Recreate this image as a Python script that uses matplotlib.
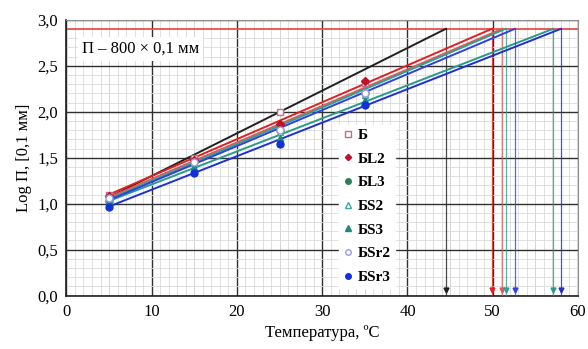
import numpy as np
import matplotlib.pyplot as plt
from matplotlib.ticker import MultipleLocator, FuncFormatter

plt.rcParams['font.family'] = ['Liberation Serif', 'DejaVu Serif']

# =========================
# Data
# =========================
temps = [5, 15, 25, 35]
names = ["Б", "БL2", "БL3", "БS2", "БS3", "БSr2", "БSr3"]

pts_b = [1.10, 1.50, 2.00, 2.31]
pts_bl2 = [1.08, 1.48, 1.87, 2.33]
pts_bl3 = [1.03, 1.45, 1.80, 2.20]
pts_bs2 = [1.05, 1.44, 1.78, 2.18]
pts_bs3 = [1.02, 1.40, 1.72, 2.13]
pts_bsr2 = [1.06, 1.45, 1.80, 2.20]
pts_bsr3 = [0.96, 1.33, 1.65, 2.07]
points = [pts_b, pts_bl2, pts_bl3, pts_bs2, pts_bs3, pts_bsr2, pts_bsr3]

# trend lines: value at 5 °C and temperature where log P = log 800
line_start = [1.07, 1.10, 1.07, 1.05, 1.03, 1.04, 0.97]
line_end_t = [44.5, 49.9, 51.1, 51.5, 57.1, 52.6, 58.0]
LOG_P800 = np.log10(800)

# styles
marker_colors = ["#c86a8a", "#c0102a", "#2e7d5b", "#3aa8a0", "#1f8a7a", "#9a9ae0", "#1030e0"]
marker_shapes = ["s", "D", "o", "^", "^", "o", "o"]
marker_filled = [False, True, True, False, True, False, True]
line_colors = ["#202020", "#e02020", "#e05858", "#30a090", "#2a9a8a", "#3040e0", "#2030d0"]

fig = plt.figure(figsize=(5.88, 3.49), dpi=100)
ax = fig.add_axes([0.113, 0.153, 0.870, 0.790])

ax.set_xlim(0, 60)
ax.set_ylim(0, 3.0)
ax.xaxis.set_major_locator(MultipleLocator(10))
ax.yaxis.set_major_locator(MultipleLocator(0.5))
ax.xaxis.set_minor_locator(MultipleLocator(1))
ax.yaxis.set_minor_locator(MultipleLocator(0.1))
ax.grid(which="minor", color="#dadada", lw=0.6)
ax.grid(which="major", color="#303030", lw=1.0)
for xv in range(5, 60, 10):
    ax.axvline(xv, color="#bdbdbd", lw=0.7, zorder=0.5)
ax.set_axisbelow(True)

ax.yaxis.set_major_formatter(FuncFormatter(lambda v, p: f"{v:.1f}".replace(".", ",")))
ax.tick_params(which="both", direction="in", length=0, labelsize=12, pad=6)
for s in ["top", "right"]:
    ax.spines[s].set_color("#909090")
for s in ["left", "bottom"]:
    ax.spines[s].set_color("#202020")
    ax.spines[s].set_linewidth(1.2)

# horizontal limit line
ax.axhline(LOG_P800, color="#f04040", lw=1.2, zorder=2)

# trend lines with drop lines
for y0, te, lc in zip(line_start, line_end_t, line_colors):
    ax.plot([5, te], [y0, LOG_P800], color=lc, lw=1.4, zorder=3)
    ax.plot([te, te], [LOG_P800, 0.0], color=lc, lw=0.9, alpha=0.8, zorder=3)
    ax.plot([te], [0.06], marker="v", ms=3.5, color=lc, zorder=4)

# data points
handles = []
for name, vals, mc, mk, fill in zip(names, points, marker_colors, marker_shapes, marker_filled):
    h, = ax.plot(temps, vals, ls="none", marker=mk, ms=5 if mk != "D" else 4,
                 markerfacecolor=mc if fill else "white", markeredgecolor=mc,
                 markeredgewidth=1.0, label=name, zorder=5)
    handles.append(h)

leg = ax.legend(handles=handles, loc="upper left", bbox_to_anchor=(0.533, 0.62),
                frameon=True, fancybox=False, edgecolor="white", framealpha=1.0,
                fontsize=11, handlelength=0.6, handletextpad=0.4, labelspacing=0.65,
                borderpad=0.25, borderaxespad=0.0, markerscale=0.8)
for t in leg.get_texts():
    t.set_fontweight("bold")

ax.text(1.8, 2.64, "П – 800 × 0,1 мм", fontsize=12,
        bbox=dict(facecolor="white", edgecolor="none", pad=3), zorder=6)

ax.set_xlabel("Температура, ºС", fontsize=12)
ax.set_ylabel("Log П, [0,1 мм]", fontsize=12)

fig.savefig("out.png", dpi=100)
